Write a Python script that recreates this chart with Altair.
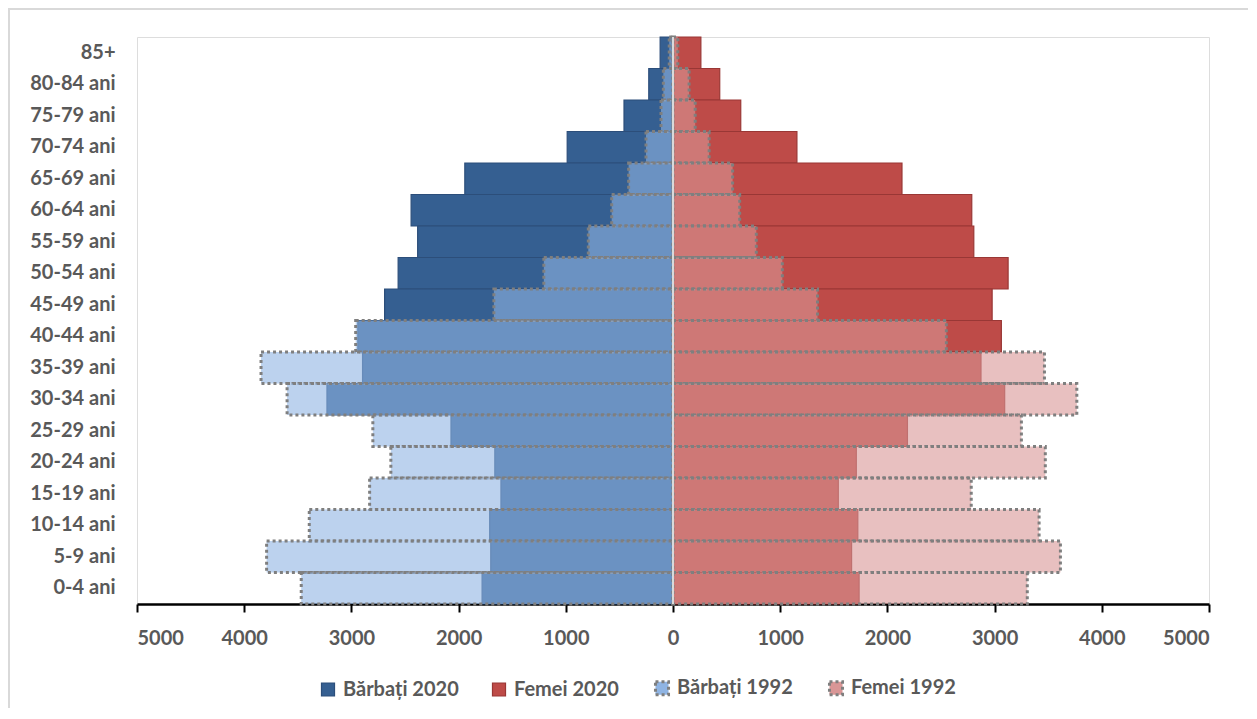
import altair as alt
import pandas as pd

ages = ["85+", "80-84 ani", "75-79 ani", "70-74 ani", "65-69 ani", "60-64 ani",
        "55-59 ani", "50-54 ani", "45-49 ani", "40-44 ani", "35-39 ani", "30-34 ani",
        "25-29 ani", "20-24 ani", "15-19 ani", "10-14 ani", "5-9 ani", "0-4 ani"]

men_2020 = [120, 226, 457, 987, 1942, 2443, 2382, 2564, 2690, 2940, 2896, 3228,
            2071, 1662, 1605, 1710, 1700, 1781]
women_2020 = [260, 436, 632, 1156, 2136, 2787, 2806, 3126, 2977, 3063, 2873, 3094,
              2187, 1710, 1542, 1724, 1666, 1736]
men_1992 = [35, 90, 112, 252, 414, 572, 790, 1205, 1671, 2960, 3843, 3600,
            2800, 2632, 2830, 3393, 3791, 3468]
women_1992 = [45, 150, 207, 337, 556, 622, 777, 1020, 1348, 2550, 3465, 3767,
              3250, 3473, 2782, 3415, 3614, 3305]

series = ["Bărbați 2020", "Femei 2020", "Bărbați 1992", "Femei 1992"]

rows_2020 = []
rows_1992 = []
for i, a in enumerate(ages):
    rows_2020.append({"age": a, "series": series[0], "value": -men_2020[i]})
    rows_2020.append({"age": a, "series": series[1], "value": women_2020[i]})
    rows_1992.append({"age": a, "series": series[2], "value": -men_1992[i]})
    rows_1992.append({"age": a, "series": series[3], "value": women_1992[i]})
df2020 = pd.DataFrame(rows_2020)
df1992 = pd.DataFrame(rows_1992)

FONT = "Lato"
TXT = "#595959"

x_enc = alt.X("value:Q", scale=alt.Scale(domain=[-5000, 5000], nice=False),
              axis=alt.Axis(values=list(range(-5000, 5001, 1000)),
                            labelExpr="format(abs(datum.value), 'd')",
                            title=None, grid=False, domainColor="black",
                            domainWidth=2.5, tickColor="black", tickWidth=2,
                            tickSize=8, labelFont=FONT, labelFontSize=20,
                            labelFontWeight="bold", labelColor=TXT,
                            labelPadding=16))
y_enc = alt.Y("age:N", sort=ages,
              scale=alt.Scale(paddingInner=0, paddingOuter=0),
              axis=alt.Axis(title=None, ticks=False, domain=False,
                            labelFont=FONT, labelFontSize=20,
                            labelFontWeight="bold", labelColor=TXT,
                            labelPadding=22))

color_enc = alt.Color("series:N", title=None, sort=series,
                      scale=alt.Scale(type="ordinal", domain=series,
                                      range=["#355F91", "#BE4B48", "#8FB4E3", "#D99696"]),
                      legend=alt.Legend(orient="none", legendX=181, legendY=641,
                                        direction="horizontal", columns=4,
                                        symbolType="square", symbolSize=170,
                                        labelFont=FONT, labelFontSize=20,
                                        labelFontWeight="bold", labelColor=TXT,
                                        columnPadding=30, labelOffset=5))
stroke_enc = alt.Stroke("series:N", title=None, sort=series,
                        scale=alt.Scale(type="ordinal", domain=series,
                                        range=["#2C4E7A", "#993735", "#7F7F7F", "#7F7F7F"]))
dash_enc = alt.StrokeDash("series:N", title=None, sort=series,
                          scale=alt.Scale(type="ordinal", domain=series,
                                          range=[[1, 0], [1, 0], [3, 3], [3, 3]]))
fop_enc = alt.FillOpacity("series:N", title=None, sort=series,
                          scale=alt.Scale(type="ordinal", domain=series,
                                          range=[1, 1, 0.6, 0.6]))
sw_enc = alt.StrokeWidth("series:N", title=None, sort=series,
                         scale=alt.Scale(type="ordinal", domain=series,
                                         range=[1.2, 1.2, 3, 3]))

def bars(df):
    return alt.Chart(df).mark_bar(clip=False).encode(
        x=x_enc, y=y_enc, color=color_enc, stroke=stroke_enc,
        strokeDash=dash_enc, fillOpacity=fop_enc, strokeWidth=sw_enc)

center = alt.Chart(df2020).mark_rule(color="#D9D9D9", strokeWidth=2).encode(
    x=alt.datum(0))

border_left = alt.Chart(df2020).mark_rule(color="#D9D9D9", strokeWidth=2, clip=False).encode(
    x=alt.value(-128), y=alt.value(-29), y2=alt.value(680))
border_top = alt.Chart(df2020).mark_rule(color="#D9D9D9", strokeWidth=2, clip=False).encode(
    x=alt.value(-128), x2=alt.value(1120), y=alt.value(-28))

chart = alt.layer(bars(df2020), bars(df1992), center, border_left, border_top).properties(
    width=1072, height=567,
    autosize=alt.AutoSizeParams(type="none"),
    padding={"left": 129, "top": 29, "right": 39, "bottom": 104},
).configure_view(stroke=None).configure(background="white")

chart.save("out.html", embed_options={"renderer": "svg", "actions": False})
